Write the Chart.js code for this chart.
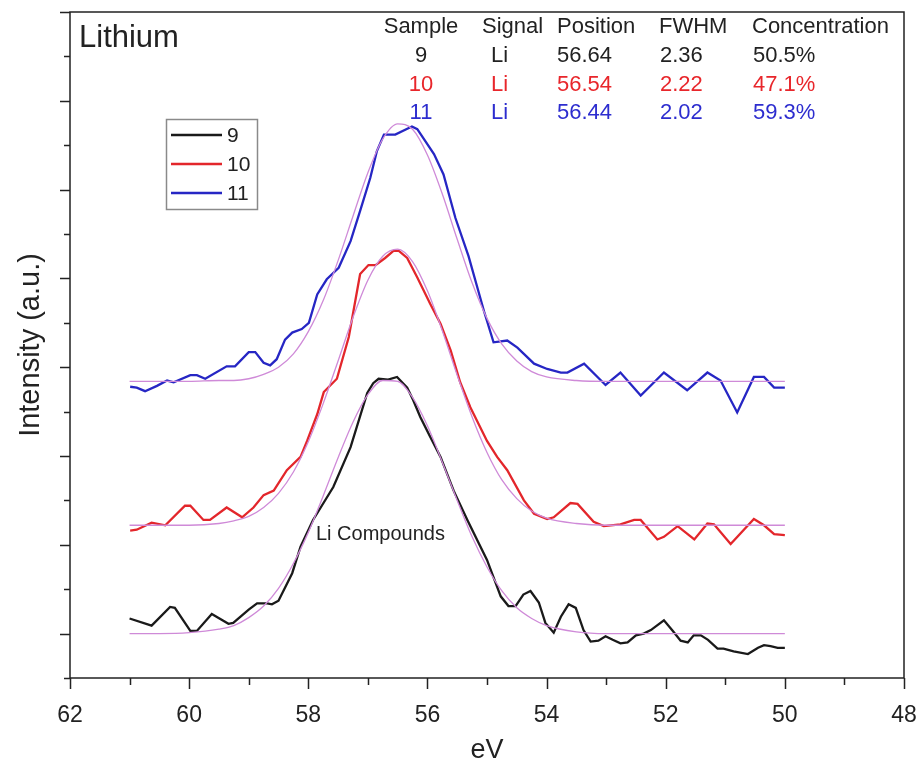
<!DOCTYPE html>
<html>
<head>
<meta charset="utf-8">
<script src="https://cdn.jsdelivr.net/npm/chart.js@4.4.1/dist/chart.umd.min.js"></script>
<style>
  html, body { margin: 0; padding: 0; background: #fff; }
  #wrap { width: 917px; height: 772px; }
</style>
</head>
<body>
<div id="wrap"><canvas id="xps" width="917" height="772"></canvas></div>
<script>
// sample 9 (black)
const eV9 = [61.0, 60.63, 60.32, 60.24, 59.98, 59.87, 59.62, 59.34, 59.26, 59.0, 58.86, 58.69, 58.61, 58.5, 58.27, 58.13, 57.92, 57.58, 57.29, 57.01, 56.91, 56.82, 56.66, 56.51, 56.34, 56.24, 56.12, 55.95, 55.78, 55.56, 55.33, 55.0, 54.77, 54.64, 54.52, 54.39, 54.27, 54.13, 54.02, 53.88, 53.76, 53.63, 53.51, 53.38, 53.26, 53.13, 53.01, 52.89, 52.76, 52.64, 52.5, 52.37, 52.25, 52.03, 51.88, 51.75, 51.63, 51.53, 51.41, 51.29, 51.13, 51.03, 50.86, 50.62, 50.45, 50.35, 50.24, 50.12, 50.0];
const int9 = [0.17, 0.09, 0.30, 0.29, 0.03, 0.03, 0.22, 0.11, 0.12, 0.27, 0.34, 0.34, 0.33, 0.37, 0.68, 0.98, 1.28, 1.65, 2.10, 2.71, 2.82, 2.87, 2.86, 2.89, 2.77, 2.63, 2.44, 2.21, 1.99, 1.61, 1.28, 0.83, 0.42, 0.31, 0.31, 0.44, 0.48, 0.35, 0.12, 0.01, 0.19, 0.33, 0.29, 0.04, -0.09, -0.08, -0.03, -0.07, -0.11, -0.10, -0.02, 0.00, 0.04, 0.15, 0.03, -0.08, -0.10, -0.02, -0.02, -0.07, -0.17, -0.17, -0.20, -0.23, -0.16, -0.13, -0.14, -0.16, -0.16];

// sample 10 (red)
const eV10 = [60.99, 60.88, 60.63, 60.40, 60.07, 59.98, 59.76, 59.65, 59.37, 59.11, 58.92, 58.75, 58.58, 58.36, 58.13, 58.02, 57.85, 57.74, 57.52, 57.32, 57.13, 56.99, 56.87, 56.71, 56.57, 56.48, 56.34, 56.17, 55.95, 55.78, 55.61, 55.45, 55.28, 55.0, 54.83, 54.66, 54.38, 54.21, 53.99, 53.88, 53.60, 53.48, 53.21, 53.04, 52.76, 52.53, 52.42, 52.14, 52.03, 51.80, 51.52, 51.30, 51.19, 50.91, 50.52, 50.35, 50.18, 50.0];
const int10 = [1.16, 1.17, 1.25, 1.22, 1.44, 1.44, 1.28, 1.28, 1.42, 1.31, 1.42, 1.56, 1.61, 1.84, 1.99, 2.17, 2.47, 2.72, 2.87, 3.34, 4.05, 4.15, 4.15, 4.23, 4.31, 4.31, 4.23, 4.01, 3.71, 3.49, 3.19, 2.83, 2.55, 2.17, 1.99, 1.84, 1.50, 1.35, 1.29, 1.31, 1.47, 1.46, 1.26, 1.21, 1.23, 1.28, 1.28, 1.06, 1.09, 1.21, 1.06, 1.24, 1.23, 1.01, 1.29, 1.22, 1.12, 1.11];

// sample 11 (blue)
const eV11 = [60.99, 60.88, 60.74, 60.54, 60.37, 60.26, 59.98, 59.87, 59.73, 59.37, 59.23, 59.0, 58.89, 58.75, 58.64, 58.53, 58.39, 58.27, 58.11, 57.99, 57.85, 57.69, 57.49, 57.29, 57.13, 56.96, 56.85, 56.73, 56.54, 56.26, 56.17, 55.89, 55.73, 55.53, 55.31, 55.05, 54.89, 54.66, 54.49, 54.21, 53.99, 53.76, 53.65, 53.37, 53.01, 52.76, 52.42, 52.03, 51.64, 51.30, 51.08, 50.80, 50.52, 50.35, 50.18, 50.0];
const int11 = [2.78, 2.77, 2.73, 2.79, 2.85, 2.83, 2.91, 2.91, 2.87, 3.01, 3.01, 3.17, 3.17, 3.05, 3.02, 3.09, 3.31, 3.39, 3.43, 3.50, 3.82, 3.99, 4.12, 4.42, 4.76, 5.13, 5.43, 5.62, 5.62, 5.71, 5.68, 5.40, 5.17, 4.68, 4.25, 3.63, 3.28, 3.30, 3.22, 3.04, 2.98, 2.94, 2.94, 3.04, 2.80, 2.94, 2.68, 2.94, 2.74, 2.94, 2.85, 2.49, 2.89, 2.89, 2.77, 2.77];

// fitted peaks (thin violet lines)
const fitEv = [61, 60.5, 60, 59.5, 59.25, 59, 58.75, 58.5, 58.25, 58, 57.75, 57.5, 57.25, 57, 56.75, 56.5, 56.25, 56, 55.75, 55.5, 55.25, 55, 54.75, 54.5, 54.25, 54, 53.5, 53, 52, 51, 50];
const fit9 = [0, 0, 0.01, 0.05, 0.09, 0.18, 0.31, 0.51, 0.79, 1.14, 1.55, 1.98, 2.38, 2.69, 2.85, 2.84, 2.66, 2.34, 1.93, 1.50, 1.09, 0.75, 0.48, 0.29, 0.17, 0.09, 0.02, 0, 0, 0, 0];
const fit10 = [1.22, 1.22, 1.22, 1.24, 1.27, 1.32, 1.42, 1.58, 1.82, 2.16, 2.59, 3.07, 3.56, 3.98, 4.25, 4.33, 4.19, 3.86, 3.41, 2.91, 2.44, 2.04, 1.73, 1.52, 1.38, 1.30, 1.24, 1.22, 1.22, 1.22, 1.22];
const fit11 = [2.84, 2.84, 2.84, 2.85, 2.85, 2.87, 2.92, 3.00, 3.15, 3.40, 3.75, 4.20, 4.70, 5.19, 5.57, 5.74, 5.68, 5.39, 4.95, 4.44, 3.95, 3.55, 3.26, 3.07, 2.95, 2.89, 2.85, 2.84, 2.84, 2.84, 2.84];

// table text in the top right
const tableHead = ['Sample', 'Signal', 'Position', 'FWHM', 'Concentration'];
const tableRows = [
    ['9', 'Li', '56.64', '2.36', '50.5%'],
    ['10', 'Li', '56.54', '2.22', '47.1%'],
    ['11', 'Li', '56.44', '2.02', '59.3%'],
];
const sampleNames = ['9', '10', '11'];

const FONT = "'Liberation Sans', Arial, sans-serif";
const lineColors = ['#1a1a1a', '#e3262b', '#2626c4'];
const textColors = ['#222222', '#e8262b', '#2d2dcf'];
const fitColor = '#cf8ad8';

const pts = (xs, ys) => xs.map((x, i) => ({ x: x, y: ys[i] }));

const fitSet = (ys) => ({
    data: pts(fitEv, ys),
    borderColor: fitColor,
    borderWidth: 1.3,
    pointRadius: 0,
    cubicInterpolationMode: 'monotone',
});
const dataSet = (xs, ys, i) => ({
    label: sampleNames[i],
    data: pts(xs, ys),
    borderColor: lineColors[i],
    borderWidth: 2.3,
    pointRadius: 0,
    tension: 0,
});

// frame, tick marks, legend and the texts
const decor = {
    id: 'decor',
    afterDraw(chart) {
        const { ctx, chartArea: a, scales: { x, y } } = chart;
        ctx.save();
        ctx.strokeStyle = '#222';
        ctx.lineWidth = 1.5;
        ctx.strokeRect(a.left, a.top, a.right - a.left, a.bottom - a.top);

        ctx.beginPath();
        x.ticks.forEach(t => {
            const px = Math.round(x.getPixelForValue(t.value)) + 0.5;
            const len = t.value % 2 === 0 ? 11 : 7;
            ctx.moveTo(px, a.bottom);
            ctx.lineTo(px, a.bottom + len);
        });
        y.ticks.forEach(t => {
            const py = Math.round(y.getPixelForValue(t.value)) + 0.5;
            const len = Number.isInteger(t.value) ? 10 : 6;
            ctx.moveTo(a.left, py);
            ctx.lineTo(a.left - len, py);
        });
        ctx.stroke();

        // legend box
        ctx.strokeStyle = '#8a8a8a';
        ctx.lineWidth = 1.5;
        ctx.strokeRect(166.5, 119.5, 91, 90);
        ctx.font = '21px ' + FONT;
        ctx.textBaseline = 'middle';
        ctx.textAlign = 'left';
        sampleNames.forEach((n, i) => {
            const ly = 135 + i * 29;
            ctx.strokeStyle = lineColors[i];
            ctx.lineWidth = 2.3;
            ctx.beginPath();
            ctx.moveTo(171, ly);
            ctx.lineTo(222, ly);
            ctx.stroke();
            ctx.fillStyle = '#222';
            ctx.fillText(n, 227, ly + 1);
        });

        // title
        ctx.fillStyle = '#222';
        ctx.font = '31px ' + FONT;
        ctx.fillText('Lithium', 79, 38);

        // table
        const colX = [421, 482, 557, 659, 752];
        ctx.font = '22px ' + FONT;
        tableHead.forEach((h, j) => {
            ctx.textAlign = j === 0 ? 'center' : 'left';
            ctx.fillText(h, colX[j], 27);
        });
        const rowX = [421, 491, 557, 660, 753];
        tableRows.forEach((r, i) => {
            ctx.fillStyle = textColors[i];
            r.forEach((c, j) => {
                ctx.textAlign = j === 0 ? 'center' : 'left';
                ctx.fillText(c, rowX[j], 56 + i * 28.5);
            });
        });

        // peak label
        ctx.fillStyle = '#222';
        ctx.font = '20px ' + FONT;
        ctx.textAlign = 'left';
        ctx.fillText('Li Compounds', 316, 534);
        ctx.restore();
    }
};

new Chart(document.getElementById('xps'), {
    type: 'line',
    data: {
        datasets: [
            fitSet(fit9), fitSet(fit10), fitSet(fit11),
            dataSet(eV9, int9, 0), dataSet(eV10, int10, 1), dataSet(eV11, int11, 2),
        ],
    },
    options: {
        responsive: false,
        animation: false,
        devicePixelRatio: 1,
        layout: { padding: { left: 0, top: 12, right: 13, bottom: 0 } },
        plugins: { legend: { display: false }, tooltip: { enabled: false } },
        scales: {
            x: {
                type: 'linear',
                reverse: true,
                min: 48,
                max: 62,
                grid: { display: false, drawTicks: false },
                border: { display: false },
                ticks: {
                    stepSize: 1,
                    autoSkip: false,
                    maxRotation: 0,
                    padding: 24,
                    color: '#222',
                    font: { family: FONT, size: 23 },
                    callback: v => (v % 2 === 0 ? String(v) : ''),
                },
                title: { display: true, text: 'eV', color: '#222', font: { family: FONT, size: 27 }, padding: { top: 0, bottom: 5 } },
                afterFit: s => { s.height = 94; s.paddingLeft = 0; s.paddingRight = 0; },
            },
            y: {
                min: -0.5,
                max: 7,
                grid: { display: false, drawTicks: false },
                border: { display: false },
                ticks: { display: false, stepSize: 0.5 },
                title: { display: true, text: 'Intensity (a.u.)', color: '#222', font: { family: FONT, size: 29 }, padding: { top: 14, bottom: 0 } },
                afterFit: s => { s.width = 70; s.paddingTop = 0; s.paddingBottom = 0; },
            },
        },
    },
    plugins: [decor],
});
</script>
</body>
</html>
